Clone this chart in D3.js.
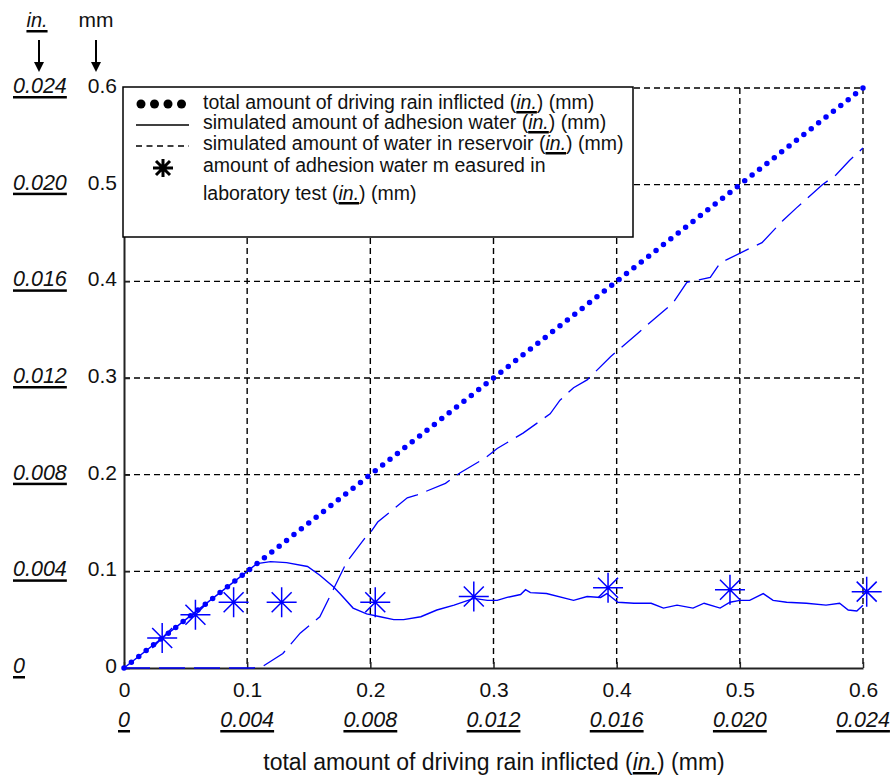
<!DOCTYPE html>
<html>
<head>
<meta charset="utf-8">
<script src="https://cdn.jsdelivr.net/npm/d3@7"></script>
<style>
body { margin: 0; background: #fff; }
text { font-family: "Liberation Sans", Arial, sans-serif; fill: #111; }
</style>
</head>
<body>
<div class="canvas"></div>
<script>
const canvasWidth = 893;
const canvasHeight = 776;
const margin = { top: 88, left: 124, bottom: 108, right: 30 };
const graphWidth = canvasWidth - margin.left - margin.right;
const graphHeight = canvasHeight - margin.top - margin.bottom;

// ticks (mm) and the matching inch labels
const mmTicks = [0, 0.1, 0.2, 0.3, 0.4, 0.5, 0.6];
const inchLabels = ['0', '0.004', '0.008', '0.012', '0.016', '0.020', '0.024'];

// total amount of driving rain inflicted
const totalX = [0, 0.1, 0.2, 0.3, 0.4, 0.5, 0.6];
const totalY = [0, 0.1, 0.2, 0.3, 0.4, 0.5, 0.6];

// simulated adhesion water
const adhX = [0, 0.05, 0.1, 0.108, 0.119, 0.132, 0.149, 0.159, 0.170, 0.176, 0.186, 0.197, 0.208, 0.219, 0.227,
	0.241, 0.254, 0.268, 0.284, 0.295, 0.303, 0.311, 0.322, 0.326, 0.330, 0.343, 0.365, 0.376, 0.387, 0.392,
	0.401, 0.414, 0.428, 0.438, 0.449, 0.462, 0.471, 0.484, 0.492, 0.5, 0.508, 0.519, 0.527, 0.538, 0.554,
	0.570, 0.581, 0.588, 0.595, 0.600];
const adhY = [0, 0.05, 0.1, 0.108, 0.110, 0.109, 0.105, 0.096, 0.084, 0.076, 0.062, 0.056, 0.053, 0.050, 0.050,
	0.053, 0.060, 0.065, 0.072, 0.070, 0.070, 0.073, 0.076, 0.081, 0.078, 0.077, 0.070, 0.074, 0.073, 0.077,
	0.068, 0.067, 0.067, 0.062, 0.065, 0.062, 0.067, 0.062, 0.068, 0.070, 0.070, 0.077, 0.070, 0.068, 0.067,
	0.065, 0.067, 0.060, 0.059, 0.065];

// simulated water in reservoir
const resX = [0, 0.105, 0.113, 0.129, 0.143, 0.159, 0.171, 0.181, 0.184, 0.196, 0.200, 0.206, 0.230, 0.238,
	0.261, 0.273, 0.293, 0.303, 0.324, 0.346, 0.354, 0.365, 0.376, 0.395, 0.417, 0.425, 0.446, 0.457, 0.476,
	0.484, 0.508, 0.518, 0.535, 0.546, 0.567, 0.578, 0.589, 0.600];
const resY = [0, 0, 0.002, 0.015, 0.036, 0.053, 0.084, 0.110, 0.115, 0.135, 0.140, 0.151, 0.176, 0.179,
	0.191, 0.202, 0.217, 0.227, 0.243, 0.263, 0.277, 0.290, 0.298, 0.322, 0.346, 0.355, 0.378, 0.399, 0.404,
	0.419, 0.434, 0.440, 0.463, 0.476, 0.500, 0.510, 0.525, 0.538];

// measured in laboratory test
const labX = [0.031, 0.058, 0.089, 0.128, 0.204, 0.284, 0.393, 0.492, 0.603];
const labY = [0.031, 0.055, 0.068, 0.068, 0.068, 0.074, 0.083, 0.081, 0.079];

const legendLabels = [
	['total amount of driving rain inflicted (', 'in.', ') (mm)'],
	['simulated amount of adhesion water (', 'in.', ') (mm)'],
	['simulated amount of water in reservoir (', 'in.', ') (mm)'],
	['amount of adhesion water m easured in', '', ''],
	['laboratory test (', 'in.', ') (mm)']
];
const axisTitle = ['total amount of driving rain inflicted (', 'in.', ') (mm)'];

const blue = '#0000ff';

const svg = d3.select('.canvas')
	.append('svg')
	.attr('width', canvasWidth)
	.attr('height', canvasHeight);

const graph = svg.append('g')
	.attr('transform', `translate(${margin.left},${margin.top})`);

const x = d3.scaleLinear().domain([0, 0.6]).range([0, graphWidth]);
const y = d3.scaleLinear().domain([0, 0.6]).range([graphHeight, 0]);

// thick underline under a text node
function underlineBox(parent, node, yLine, thick) {
	const b = node.getBBox();
	parent.append('rect')
		.attr('x', b.x)
		.attr('y', yLine)
		.attr('width', b.width)
		.attr('height', thick)
		.attr('fill', '#000');
}

// grid
const grid = graph.append('g');
grid.selectAll('.vg')
	.data(mmTicks.slice(1))
	.enter().append('line')
	.attr('x1', d => x(d)).attr('x2', d => x(d))
	.attr('y1', 0).attr('y2', graphHeight)
	.attr('stroke', '#000').attr('stroke-width', 1.4)
	.attr('stroke-dasharray', '6 4');
grid.selectAll('.hg')
	.data(mmTicks.slice(1))
	.enter().append('line')
	.attr('y1', d => y(d)).attr('y2', d => y(d))
	.attr('x1', 0).attr('x2', graphWidth)
	.attr('stroke', '#000').attr('stroke-width', 1.4)
	.attr('stroke-dasharray', '6 4');

// axes
const xAxis = d3.axisBottom(x).tickValues(mmTicks).tickSize(-6).tickSizeOuter(0).tickPadding(14)
	.tickFormat(d => d === 0 ? '0' : d3.format('.1f')(d));
const yAxis = d3.axisLeft(y).tickValues(mmTicks).tickSize(-6).tickSizeOuter(0).tickPadding(7)
	.tickFormat(d => d === 0 ? '0' : d3.format('.1f')(d));

const xAxisGroup = graph.append('g').attr('transform', `translate(0,${graphHeight})`).call(xAxis);
const yAxisGroup = graph.append('g').call(yAxis);
[xAxisGroup, yAxisGroup].forEach(g => {
	g.attr('font-size', 21).attr('font-family', '"Liberation Sans", Arial, sans-serif');
	g.select('.domain').attr('stroke', '#222').attr('stroke-width', 2);
	g.selectAll('.tick line').attr('stroke', '#222').attr('stroke-width', 1.5);
	g.selectAll('.tick text').attr('fill', '#111');
});
yAxisGroup.selectAll('.tick text').attr('dy', '0.22em');

// inch labels, left
const inchLeft = svg.append('g');
mmTicks.forEach((v, i) => {
	const yy = margin.top + y(v);
	const t = inchLeft.append('text')
		.attr('x', 13).attr('y', yy + 5)
		.attr('font-size', 21.5).attr('font-style', 'italic')
		.text(inchLabels[i]);
	underlineBox(inchLeft, t.node(), yy + 8, 2.5);
});

// inch labels, bottom
const inchBottom = svg.append('g');
mmTicks.forEach((v, i) => {
	const xx = margin.left + x(v);
	const t = inchBottom.append('text')
		.attr('x', xx).attr('y', 727)
		.attr('text-anchor', 'middle')
		.attr('font-size', 21.5).attr('font-style', 'italic')
		.text(inchLabels[i]);
	underlineBox(inchBottom, t.node(), 730, 2.5);
});

// unit headers with arrows
const head = svg.append('g');
const inT = head.append('text').attr('x', 37).attr('y', 27).attr('text-anchor', 'middle')
	.attr('font-size', 20).attr('font-style', 'italic').text('in.');
underlineBox(head, inT.node(), 30, 2.5);
head.append('text').attr('x', 96).attr('y', 27).attr('text-anchor', 'middle')
	.attr('font-size', 21).text('mm');
[39, 96].forEach(ax => {
	head.append('line').attr('x1', ax).attr('x2', ax).attr('y1', 40).attr('y2', 64)
		.attr('stroke', '#000').attr('stroke-width', 2);
	head.append('path').attr('d', `M${ax - 5},62L${ax + 5},62L${ax},72Z`).attr('fill', '#000');
});

// data
const line = d3.line().x(d => x(d[0])).y(d => y(d[1]));

graph.append('path')
	.datum(resX.map((v, i) => [v, resY[i]]))
	.attr('d', line)
	.attr('fill', 'none').attr('stroke', blue).attr('stroke-width', 1.3)
	.attr('stroke-dasharray', '26 9');

graph.append('path')
	.datum(adhX.map((v, i) => [v, adhY[i]]))
	.attr('d', line)
	.attr('fill', 'none').attr('stroke', blue).attr('stroke-width', 1.4);

const totalPath = graph.append('path')
	.datum(totalX.map((v, i) => [v, totalY[i]]))
	.attr('d', line)
	.attr('fill', 'none').attr('stroke', blue).attr('stroke-width', 5.5)
	.attr('stroke-linecap', 'round');
// spacing chosen so a dot lands on both ends
const totalLen = totalPath.node().getTotalLength();
totalPath.attr('stroke-dasharray', `0 ${(totalLen - 0.05) / 100}`);

const starPath = 'M-15,0H15M0,-15V15M-10,-10L10,10M-10,10L10,-10';
graph.selectAll('.star')
	.data(labX.map((v, i) => [v, labY[i]]))
	.enter().append('path')
	.attr('transform', d => `translate(${x(d[0])},${y(d[1])})`)
	.attr('d', starPath)
	.attr('fill', 'none').attr('stroke', blue).attr('stroke-width', 1.5);

// legend
const legend = svg.append('g');
legend.append('rect')
	.attr('x', 123).attr('y', 87).attr('width', 510).attr('height', 150)
	.attr('fill', '#fff').attr('stroke', '#000').attr('stroke-width', 1.5);

const rowBase = [109, 129, 150, 172, 200];
legendLabels.forEach((parts, i) => {
	const t = legend.append('text').attr('x', 203).attr('y', rowBase[i]).attr('font-size', 19.5);
	t.append('tspan').text(parts[0]);
	if (parts[1]) {
		const it = t.append('tspan').attr('font-style', 'italic').text(parts[1]);
		underlineBox(legend, it.node(), rowBase[i] + 2, 2.5);
	}
	t.append('tspan').text(parts[2]);
});
// legend keys
[0, 1, 2, 3].forEach(k => {
	legend.append('circle').attr('cx', 141 + k * 13.5).attr('cy', 104).attr('r', 4.5).attr('fill', '#000');
});
legend.append('line').attr('x1', 136).attr('x2', 189).attr('y1', 125).attr('y2', 125)
	.attr('stroke', '#000').attr('stroke-width', 1.5);
legend.append('line').attr('x1', 136).attr('x2', 189).attr('y1', 146).attr('y2', 146)
	.attr('stroke', '#000').attr('stroke-width', 1.5).attr('stroke-dasharray', '6 4.5');
legend.append('path').attr('transform', 'translate(163,168)')
	.attr('d', 'M-10,0H10M0,-9V9M-7,-7L7,7M-7,7L7,-7')
	.attr('stroke', '#000').attr('stroke-width', 3);

// x axis title
const title = svg.append('text').attr('x', 494).attr('y', 770).attr('text-anchor', 'middle').attr('font-size', 23);
title.append('tspan').text(axisTitle[0]);
const titleIn = title.append('tspan').attr('font-style', 'italic').text(axisTitle[1]);
title.append('tspan').text(axisTitle[2]);
underlineBox(svg, titleIn.node(), 772, 2.5);
</script>
</body>
</html>
